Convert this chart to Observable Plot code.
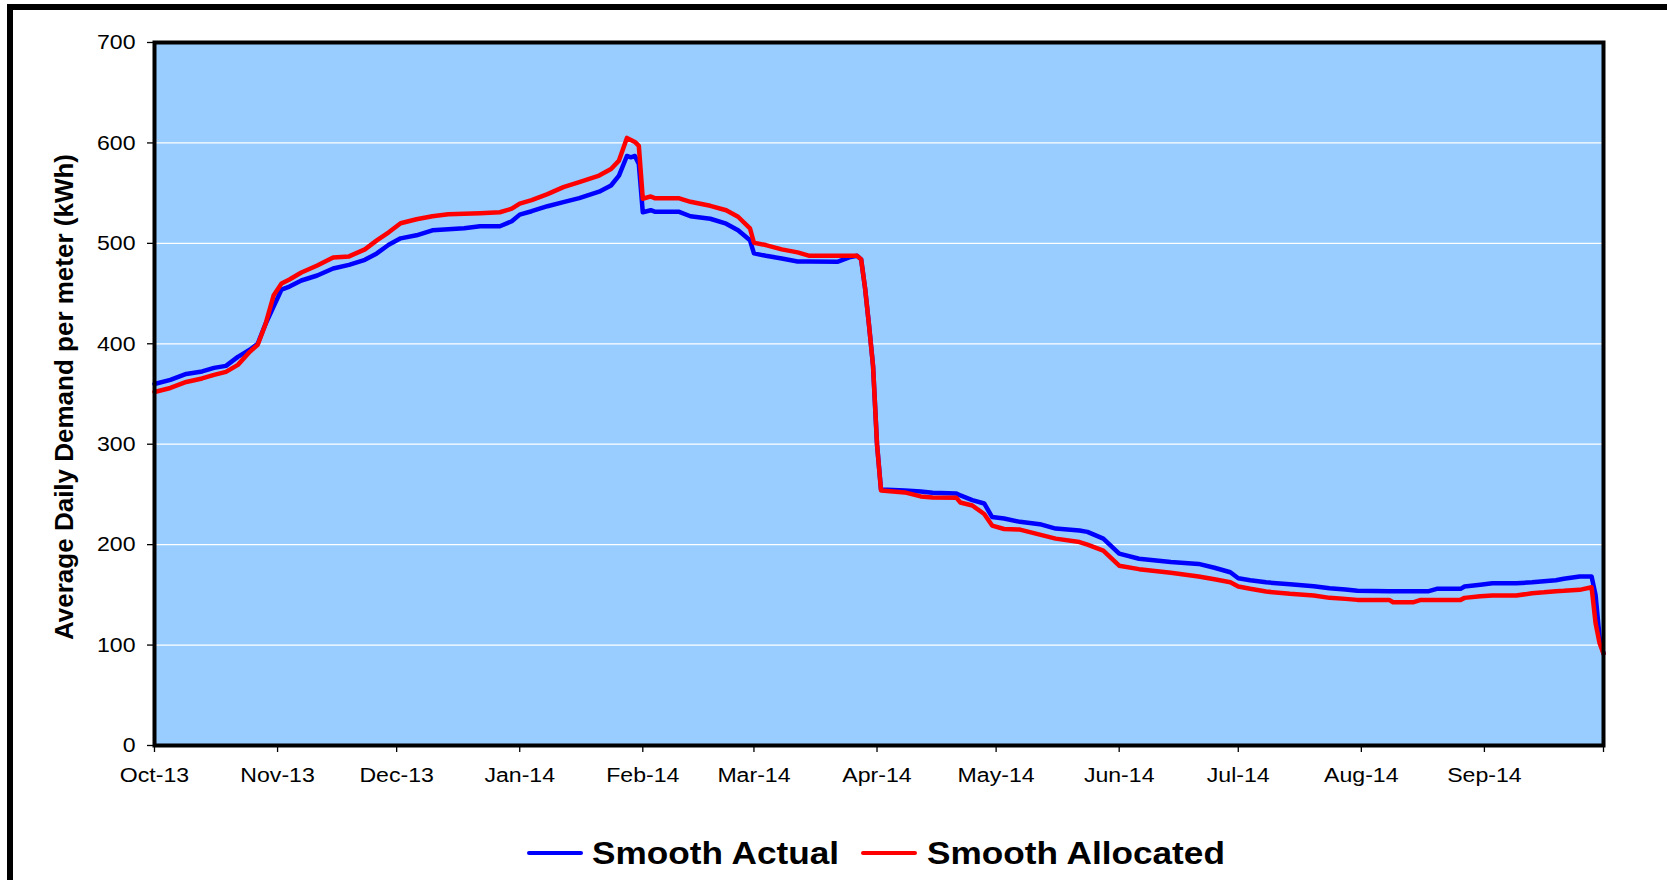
<!DOCTYPE html>
<html>
<head>
<meta charset="utf-8">
<script src="https://cdn.jsdelivr.net/npm/d3@7"></script>
<script src="https://cdn.jsdelivr.net/npm/@observablehq/plot@0.6"></script>
<style>
  html, body { margin: 0; padding: 0; background: #fff; overflow: hidden; }
  body { width: 1667px; height: 880px; position: relative; font-family: "Liberation Sans", Arial, sans-serif; }
  #border { position: absolute; left: 7px; top: 4px; width: 2000px; height: 2000px; border: 6px solid #000; box-sizing: border-box; }
  #chart { position: absolute; left: 0; top: 0; }
  #legend { position: absolute; left: 0; top: 832px; width: 1667px; height: 42px; }
  .swatch { position: absolute; top: 19px; width: 56px; height: 4px; border-radius: 2px; }
  .name { position: absolute; top: 0; height: 42px; line-height: 42px; font-weight: bold; font-size: 32px; color: #000;
          white-space: nowrap; transform: scaleX(1.1); transform-origin: left center; }
</style>
</head>
<body>
<div id="border"></div>
<div id="chart"></div>
<div id="legend"></div>
<script>
// Daily demand per meter, Oct 2013 – Sep 2014
const dates = [
  "2013-10-01","2013-10-05","2013-10-09","2013-10-13","2013-10-16","2013-10-19","2013-10-22","2013-10-25",
  "2013-10-27","2013-10-29","2013-10-31","2013-11-02","2013-11-04","2013-11-07","2013-11-11","2013-11-15",
  "2013-11-19","2013-11-23","2013-11-26","2013-11-29","2013-12-02","2013-12-06","2013-12-10","2013-12-14",
  "2013-12-18","2013-12-22","2013-12-27","2013-12-30","2014-01-01","2014-01-04","2014-01-08","2014-01-12",
  "2014-01-16","2014-01-21","2014-01-24","2014-01-26","2014-01-28","2014-01-29","2014-01-30","2014-01-31",
  "2014-02-01","2014-02-03","2014-02-04","2014-02-10","2014-02-13","2014-02-18","2014-02-22","2014-02-25",
  "2014-02-28","2014-03-01","2014-03-04","2014-03-08","2014-03-12","2014-03-15","2014-03-22","2014-03-25",
  "2014-03-27","2014-03-28","2014-03-29","2014-03-30","2014-03-31","2014-04-01","2014-04-02","2014-04-08",
  "2014-04-12","2014-04-15","2014-04-21","2014-04-22","2014-04-25","2014-04-28","2014-04-30","2014-05-03",
  "2014-05-07","2014-05-12","2014-05-16","2014-05-22","2014-05-24","2014-05-28","2014-06-01","2014-06-06",
  "2014-06-14","2014-06-21","2014-06-25","2014-06-29","2014-07-01","2014-07-04","2014-07-08","2014-07-14",
  "2014-07-20","2014-07-24","2014-07-28","2014-07-31","2014-08-08","2014-08-09","2014-08-14","2014-08-16",
  "2014-08-18","2014-08-20","2014-08-26","2014-08-27","2014-08-31","2014-09-03","2014-09-09","2014-09-13",
  "2014-09-16","2014-09-19","2014-09-21","2014-09-25","2014-09-28","2014-09-29","2014-09-30","2014-10-01"
];

const actual = [
  360, 364, 370, 372.5, 376, 378, 387, 394,
  400, 420, 437, 454, 457, 463, 468, 475,
  478.6, 483.6, 490, 498.6, 505, 508, 513, 514,
  515, 517, 517, 522, 528.6, 532, 537, 541,
  545, 551.5, 557.6, 567.5, 587, 585.7, 587, 579,
  531, 533, 531.5, 531.5, 527, 524.5, 519.6, 513,
  503, 490, 487.6, 485, 482, 482, 481.6, 486,
  487.6, 484, 455, 418, 378, 300, 255, 254,
  253, 251.6, 251, 249, 244.4, 241, 227.5, 226,
  222.7, 220.4, 216, 214, 212.7, 206, 191, 186,
  182.7, 180.8, 177, 172.5, 166.6, 164.5, 162.5, 160.5,
  158.5, 156.5, 155.3, 154, 153.7, 153.7, 153.7, 153.7,
  153.7, 156, 156, 158.3, 160, 161.5, 161.5, 162.5,
  163.6, 164.5, 166, 168.3, 168.3, 150, 108, 91.5
];

const allocated = [
  352, 356, 362, 365.5, 369, 372, 379, 392,
  399, 420, 448, 460, 464, 471, 478, 486,
  487, 494, 503, 511, 520, 524, 527, 529,
  529.5, 530, 531, 534.5, 539.5, 543, 549, 556,
  561, 567.5, 574, 582.4, 605, 603, 601, 597,
  544.4, 546.7, 545, 545, 541.4, 537.4, 533, 526.5,
  515, 500.6, 498.3, 494, 491, 487.6, 487.6, 487.6,
  487.6, 484, 455, 418, 378, 300, 254, 252,
  248, 247, 246.6, 242, 239, 230.5, 219, 215.6,
  215, 210, 206, 202.6, 200, 194, 179, 175.6,
  172, 168.3, 165.5, 162.6, 158.3, 156, 153.3, 151,
  149.3, 147, 146, 145, 145, 142.6, 142.6, 145,
  145, 145, 145, 147, 148.5, 149.3, 149.3, 151.6,
  152.5, 153.7, 154, 155, 157.6, 122, 102, 91.5
];

// Axis ticks and labels
const monthTicks = [
  "2013-10-01","2013-11-01","2013-12-01","2014-01-01","2014-02-01","2014-03-01","2014-04-01",
  "2014-05-01","2014-06-01","2014-07-01","2014-08-01","2014-09-01","2014-10-01"
];
const monthLabels = ["Oct-13","Nov-13","Dec-13","Jan-14","Feb-14","Mar-14","Apr-14","May-14","Jun-14","Jul-14","Aug-14","Sep-14",""];
const yTicks = [0, 100, 200, 300, 400, 500, 600, 700];
const yTitle = "Average Daily Demand per meter (kWh)";
const seriesNames = ["Smooth Actual", "Smooth Allocated"];
const seriesColors = ["#0000FF", "#FF0000"];

const rows = dates.map((d, i) => ({date: new Date(d), actual: actual[i], allocated: allocated[i]}));
const tickDates = monthTicks.map(d => new Date(d));
const labelFor = new Map(tickDates.map((d, i) => [+d, monthLabels[i]]));

const chart = Plot.plot({
  width: 1667,
  height: 800,
  marginLeft: 154,
  marginRight: 64,
  marginTop: 42,
  marginBottom: 55,
  style: {fontFamily: "'Liberation Sans', Arial, sans-serif", background: "transparent", color: "#000"},
  x: {type: "utc", domain: [tickDates[0], tickDates[tickDates.length - 1]]},
  y: {domain: [0, 700]},
  marks: [
    Plot.frame({fill: "#99CCFF"}),
    Plot.gridY(yTicks.filter(t => t > 0 && t < 700), {stroke: "#fff", strokeOpacity: 1, strokeWidth: 1.2}),
    Plot.axisY({ticks: yTicks, tickSize: 7, tickPadding: 12, fontSize: 21, tickFormat: d => String(d), label: null, strokeWidth: 1.3}),
    Plot.axisX({ticks: tickDates, tickSize: 7, tickPadding: 15, fontSize: 21, tickFormat: d => labelFor.get(+d) ?? "", label: null, strokeWidth: 1.3}),
    Plot.lineY(rows, {x: "date", y: "actual", stroke: seriesColors[0], strokeWidth: 4.5, strokeLinejoin: "round"}),
    Plot.lineY(rows, {x: "date", y: "allocated", stroke: seriesColors[1], strokeWidth: 4.5, strokeLinejoin: "round"}),
    Plot.frame({stroke: "#000", strokeWidth: 4}),
    Plot.text([yTitle], {frameAnchor: "left", rotate: -90, dx: -90, dy: 3, fontSize: 26, fontWeight: "bold", textAnchor: "middle", lineAnchor: "middle", fill: "#000"})
  ]
});

// widen tick label glyphs slightly
chart.querySelectorAll('g[aria-label="x-axis tick label"] text, g[aria-label="y-axis tick label"] text').forEach(t => {
  const tr = t.getAttribute("transform") || "";
  t.setAttribute("transform", tr + " scale(1.1,1)");
});

document.getElementById("chart").appendChild(chart);

// Legend below the chart: a line swatch followed by the series name
const legend = document.getElementById("legend");
const swatchLeft = [527, 861];
const nameLeft = [592, 927];
seriesNames.forEach((name, i) => {
  const sw = document.createElement("span");
  sw.className = "swatch";
  sw.style.background = seriesColors[i];
  sw.style.left = swatchLeft[i] + "px";
  const label = document.createElement("span");
  label.className = "name";
  label.style.left = nameLeft[i] + "px";
  label.textContent = name;
  legend.appendChild(sw);
  legend.appendChild(label);
});
</script>
</body>
</html>
